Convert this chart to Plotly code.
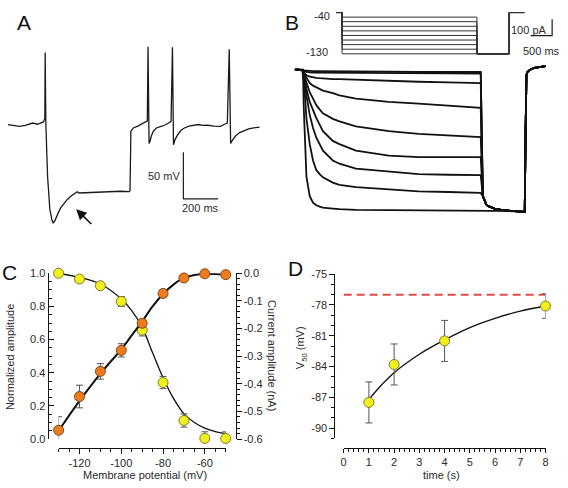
import plotly.graph_objects as go

W, H = 568, 488
FONT = "Arial, Liberation Sans, sans-serif"
TXT = "#2a2a2a"


def fx(px):
    return px / W


def fy(py):
    return 1 - py / H


# ---------------- Panel A : current-clamp trace (ms, mV) ----------------
A_T = [0, 30, 67, 100, 143, 170, 196, 205, 210, 213, 215, 219, 229, 242, 255, 261, 270, 276, 290, 305,
       325, 343, 365, 390, 400, 410, 450, 500, 543, 600, 650, 701, 705, 710, 724, 750, 771, 790, 805, 809,
       813, 815, 820, 828, 840, 857, 880, 904, 925, 942, 950, 953, 956, 965, 981, 1000, 1019, 1045, 1076, 1100,
       1125, 1152, 1190, 1228, 1250, 1267, 1278, 1281, 1286, 1295, 1314, 1338, 1362, 1390, 1419, 1440, 1453]
A_V = [-60, -60.5, -61.7, -60.8, -58.2, -59.5, -58.2, -57, -54.8, -54, 17.6, -60, -116, -151, -163, -165.4, -163.5, -160.6, -155, -149.1,
       -144, -140.3, -136.5, -133.4, -132, -133.4, -133, -132.5, -132.6, -132, -131.5, -131.9, -131, -66.9, -63.5, -61.5, -59.3, -57.5, -55.8, 23.8,
       -40, -80.2, -78, -72.2, -67, -63.5, -62, -60.6, -58.5, -56.4, 23.2, -40, -81.6, -76, -70.5, -66, -63.5, -61.5, -60.6, -59.8,
       -60.8, -60.6, -61.5, -61.7, -59.5, -58.2, 21.1, -40, -80.2, -77, -72.2, -68.5, -66.3, -64.5, -63.5, -62.5, -62.7]
A_BAR_MS, A_BAR_MV = 200, 50

# ---------------- Panel B : voltage-clamp currents (ms, pA) ----------------
B_STEPS_MV = [-50, -60, -70, -80, -90, -100, -110, -120, -130]
B_T = [-177, 0, 15, 30, 92, 168, 245, 322, 399, 476, 706, 860, 1244, 2011, 2703, 3400, 4124, 4150]
B_I = [
    [-6, -6, -8, -12, -14, -16, -16, -16, -16, -18, -18, -18, -18, -20, -22, -22, -22, -22],
    [-6, -10, -12, -18, -22, -24, -26, -26, -26, -26, -26, -28, -28, -30, -30, -30, -32, -32],
    [-6, -10, -14, -26, -42, -50, -56, -58, -60, -62, -66, -66, -70, -76, -82, -86, -90, -90],
    [-6, -10, -16, -30, -56, -90, -106, -116, -126, -136, -152, -166, -186, -206, -216, -230, -242, -242],
    [-6, -10, -18, -36, -86, -146, -186, -226, -252, -276, -310, -326, -356, -386, -402, -412, -422, -422],
    [-6, -10, -22, -46, -126, -206, -262, -306, -346, -386, -446, -466, -506, -536, -546, -546, -546, -546],
    [-6, -10, -26, -56, -166, -286, -366, -426, -470, -506, -566, -586, -616, -636, -650, -654, -656, -656],
    [-6, -10, -36, -66, -306, -466, -566, -626, -650, -670, -702, -716, -730, -746, -756, -760, -766, -766],
    [-6, -10, -66, -246, -666, -786, -826, -842, -850, -856, -862, -866, -870, -872, -876, -876, -876, -876],
]
B_TAIL_T = [4200, 4240, 4277, 4316, 4392, 4470, 4546, 4622, 4850, 5083, 5161, 5175]
B_TAIL_I = [-786, -815, -836, -846, -856, -862, -866, -870, -876, -880, -882, -882]
B_RET_T = [5190, 5214, 5240, 5300, 5400, 5541, 5659]
B_RET_I = [-500, -40, -22, -8, 4, 12, 14]
B_BAR_MS, B_BAR_PA = 500, 100

# voltage protocol (schematic, ms / mV)
P_HOLD = -40
P_TAIL = -130
P_T = [-138, 0, 3140, 3892, 4240]

# ---------------- Panel C ----------------
C_V = [-130, -120, -110, -100, -90, -80, -70, -60, -50]
C_NORM = [1.0, 0.965, 0.925, 0.83, 0.657, 0.341, 0.112, 0.004, 0.004]
C_NORM_ERR = [0.0, 0.01, 0.015, 0.03, 0.035, 0.037, 0.04, 0.04, 0.04]
C_CUR = [-0.568, -0.446, -0.355, -0.279, -0.181, -0.073, -0.017, -0.002, -0.005]
C_CUR_ERR = [0.049, 0.041, 0.028, 0.024, 0.014, 0.013, 0.006, 0.004, 0.004]
C_FIT_V = [-130, -120, -110, -100, -95, -90, -85, -80, -75, -70, -65, -60, -55, -50]
C_FIT_NORM = [1.0, 0.975, 0.935, 0.845, 0.775, 0.675, 0.52, 0.37, 0.245, 0.152, 0.1, 0.066, 0.045, 0.033]
C_FIT_CUR = [-0.570, -0.462, -0.363, -0.275, -0.225, -0.174, -0.12, -0.075, -0.041, -0.017, -0.006, -0.002, -0.003, -0.005]
C_XTICKS = [-120, -100, -80, -60]
C_LTICKS = [0, 0.2, 0.4, 0.6, 0.8, 1.0]
C_RTICKS = [-0.6, -0.5, -0.4, -0.3, -0.2, -0.1, 0]

# ---------------- Panel D ----------------
D_T = [1, 2, 4, 8]
D_V50 = [-87.5, -83.8, -81.5, -78.1]
D_ERR = [2.0, 2.0, 2.0, 1.2]
D_FIT_T = [1, 1.5, 2, 3, 4, 5, 6, 7, 8]
D_FIT_V = [-87.2, -85.8, -84.6, -82.8, -81.4, -80.2, -79.3, -78.6, -78.1]
D_REF = -77
D_XTICKS = [0, 1, 2, 3, 4, 5, 6, 7, 8]
D_YTICKS = [-75, -78, -81, -84, -87, -90]

YEL, YEL_EDGE = "#f2f01c", "#7f7b30"
ORA, ORA_EDGE = "#ec7c1e", "#85461a"

fig = go.Figure()

# ---- A
fig.add_trace(go.Scatter(x=A_T, y=A_V, mode="lines", line=dict(color="#1a1a1a", width=1.3),
                         xaxis="x", yaxis="y"))
a_t0, a_v0 = 1013, -139.6
fig.add_trace(go.Scatter(x=[a_t0, a_t0, a_t0 + A_BAR_MS], y=[a_v0 + A_BAR_MV, a_v0, a_v0], mode="lines",
                         line=dict(color="#1a1a1a", width=1.2), xaxis="x", yaxis="y"))

# ---- B currents
for trace in B_I:
    lv = trace[-1]
    xs = B_T + B_TAIL_T + B_RET_T
    ys = trace + [min(lv, v) for v in B_TAIL_I] + B_RET_I
    fig.add_trace(go.Scatter(x=xs, y=ys, mode="lines", line=dict(color="#111111", width=1.8),
                             xaxis="x2", yaxis="y2"))
b_t0, b_i0 = 5813, 202
fig.add_trace(go.Scatter(x=[b_t0 - B_BAR_MS, b_t0, b_t0], y=[b_i0, b_i0, b_i0 + B_BAR_PA], mode="lines",
                         line=dict(color="#1a1a1a", width=1.2), xaxis="x2", yaxis="y2"))

# ---- B protocol
for lv in B_STEPS_MV:
    fig.add_trace(go.Scatter(x=[P_T[0], P_T[1], P_T[1], P_T[2], P_T[2], P_T[3], P_T[3], P_T[4]],
                             y=[P_HOLD, P_HOLD, lv, lv, P_TAIL, P_TAIL, P_HOLD, P_HOLD],
                             mode="lines", line=dict(color="#333333", width=1), xaxis="x3", yaxis="y3"))

# ---- C
fig.add_trace(go.Scatter(x=C_FIT_V, y=C_FIT_CUR, mode="lines", line=dict(color="#111", width=2, shape="spline"),
                         xaxis="x4", yaxis="y5"))
fig.add_trace(go.Scatter(x=C_FIT_V, y=C_FIT_NORM, mode="lines", line=dict(color="#111", width=1.3, shape="spline"),
                         xaxis="x4", yaxis="y4"))
fig.add_trace(go.Scatter(x=C_V, y=C_CUR, mode="markers", cliponaxis=False,
                         error_y=dict(type="data", array=C_CUR_ERR, color="#555", thickness=1, width=3.5),
                         marker=dict(size=10, color=ORA, line=dict(color=ORA_EDGE, width=1)),
                         xaxis="x4", yaxis="y5"))
fig.add_trace(go.Scatter(x=C_V, y=C_NORM, mode="markers", cliponaxis=False,
                         error_y=dict(type="data", array=C_NORM_ERR, color="#555", thickness=1, width=3.5),
                         marker=dict(size=10, color=YEL, line=dict(color=YEL_EDGE, width=1)),
                         xaxis="x4", yaxis="y4"))

# ---- D
fig.add_trace(go.Scatter(x=[0, 8], y=[D_REF, D_REF], mode="lines", cliponaxis=False,
                         line=dict(color="#dd4b4b", width=2, dash="8px,5px"), xaxis="x5", yaxis="y6"))
fig.add_trace(go.Scatter(x=D_FIT_T, y=D_FIT_V, mode="lines", line=dict(color="#111", width=1.4, shape="spline"),
                         xaxis="x5", yaxis="y6"))
fig.add_trace(go.Scatter(x=D_T, y=D_V50, mode="markers", cliponaxis=False,
                         error_y=dict(type="data", array=D_ERR, color="#555", thickness=1, width=3.5),
                         marker=dict(size=10, color=YEL, line=dict(color=YEL_EDGE, width=1)),
                         xaxis="x5", yaxis="y6"))

hidden = dict(visible=False, showgrid=False, zeroline=False, fixedrange=True)
tickfont = dict(family=FONT, size=11, color=TXT)


def vis_axis(**kw):
    d = dict(showgrid=False, zeroline=False, showline=True, linecolor="#111", linewidth=1,
             tickcolor="#111", tickwidth=1, tickfont=tickfont, fixedrange=True)
    d.update(kw)
    return d


def txt(vals, fmt):
    # hyphen-minus labels as in the original figure
    return [format(v, fmt) for v in vals]


# A ranges: t(px) = (px-5)*5.714 ; v(py) = -60-(py-121.7)*1.048
a_x = [(0 - 5) * 5.714, (290 - 5) * 5.714]
a_y = [-60 - (240 - 121.7) * 1.048, -60 - (30 - 121.7) * 1.048]
# B current ranges: t = (px-302.7)*23.04 ; I = -(py-64)*6
b_x = [(285 - 302.7) * 23.04, (568 - 302.7) * 23.04]
b_y = [-(220 - 64) * 6, -(0 - 64) * 6]
# B protocol: t = (px-342.7)*23.04 ; v = -40-(py-6.7)/0.47
p_x = [(285 - 342.7) * 23.04, (568 - 342.7) * 23.04]
p_y = [-40 - (55 - 6.7) / 0.47, -40 - (0 - 6.7) / 0.47]

fig.update_layout(
    width=W, height=H, margin=dict(l=0, r=0, t=0, b=0), autosize=False,
    paper_bgcolor="white", plot_bgcolor="rgba(0,0,0,0)", showlegend=False,
    font=dict(family=FONT, color=TXT),
    xaxis=dict(domain=[0, fx(290)], range=a_x, anchor="y", **hidden),
    yaxis=dict(domain=[fy(240), fy(30)], range=a_y, anchor="x", **hidden),
    xaxis2=dict(domain=[fx(285), 1], range=b_x, anchor="y2", **hidden),
    yaxis2=dict(domain=[fy(220), 1], range=b_y, anchor="x2", **hidden),
    xaxis3=dict(domain=[fx(285), 1], range=p_x, anchor="y3", **hidden),
    yaxis3=dict(domain=[fy(55), 1], range=p_y, anchor="x3", **hidden),
    xaxis4=vis_axis(domain=[fx(56.2), fx(225.1)], range=[-130, -50], anchor="free", position=fy(453),
                    tickvals=C_XTICKS, ticktext=txt(C_XTICKS, "d"), ticks="outside", ticklen=5,
                    minor=dict(dtick=5, tick0=-130, ticks="outside", ticklen=3, tickcolor="#111")),
    yaxis4=vis_axis(domain=[fy(444), fy(274)], range=[0, 1], anchor="free", position=fx(45),
                    tickvals=C_LTICKS, ticktext=txt(C_LTICKS, ".1f"), ticks="inside", ticklen=5,
                    minor=dict(dtick=0.05, tick0=0, ticks="inside", ticklen=3, tickcolor="#111")),
    yaxis5=vis_axis(domain=[fy(444), fy(274)], range=[-0.6, 0], anchor="free", position=fx(235),
                    overlaying="y4", side="right",
                    tickvals=C_RTICKS, ticktext=txt(C_RTICKS, ".1f"), ticks="outside", ticklen=5,
                    minor=dict(dtick=0.02, tick0=0, ticks="outside", ticklen=3, tickcolor="#111")),
    xaxis5=vis_axis(domain=[fx(344.3), fx(548.3)], range=[0, 8], anchor="free", position=fy(452.7),
                    tickvals=D_XTICKS, ticktext=txt(D_XTICKS, "d"), ticks="outside", ticklen=4,
                    minor=dict(dtick=0.2, tick0=0, ticks="outside", ticklen=3, tickcolor="#111")),
    yaxis6=vis_axis(domain=[fy(443.2), fy(275)], range=[-91, -75], anchor="free", position=fx(335),
                    tickvals=D_YTICKS, ticktext=txt(D_YTICKS, "d"), ticks="outside", ticklen=5,
                    minor=dict(dtick=1, tick0=-75, ticks="outside", ticklen=3, tickcolor="#111")),
)

ann = []


def label(text, x, y, size=11, xanchor="center", yanchor="middle", angle=0, color=TXT):
    ann.append(dict(text=text, x=fx(x), y=fy(y), xref="paper", yref="paper", showarrow=False,
                    xanchor=xanchor, yanchor=yanchor, textangle=angle,
                    font=dict(family=FONT, size=size, color=color)))


label("A", 21, 17, size=21, color="#111")
label("B", 292.5, 17, size=21, color="#111")
label("C", 6.5, 273.5, size=21, color="#111")
label("D", 296, 269, size=21, color="#111")
label("50 mV", 180.5, 174.5, xanchor="right")
label("200 ms", 200, 207)
label("-40", 333, 10, xanchor="right")
label("-130", 330, 47.5, xanchor="right")
label("100 pA", 552, 25, xanchor="right")
label("500 ms", 544, 46.5)
label("Normalized amplitude", 7, 360, angle=-90)
label("Current amplitude (nA)", 272, 358, angle=90)
label("Membrane potential (mV)", 143.5, 481)
label("V<sub>50</sub> (mV)", 302, 350, angle=-90)
label("time (s)", 443.5, 480.5)

# arrow in panel A (data coordinates of the trace axes)
ann.append(dict(x=394, y=-150.8, ax=490, ay=-168.3, xref="x", yref="y", axref="x", ayref="y",
                showarrow=True, arrowhead=2, arrowsize=1.3, arrowwidth=1.6, arrowcolor="#111", text=""))

fig.update_layout(annotations=ann)
fig.write_html("out.html")
